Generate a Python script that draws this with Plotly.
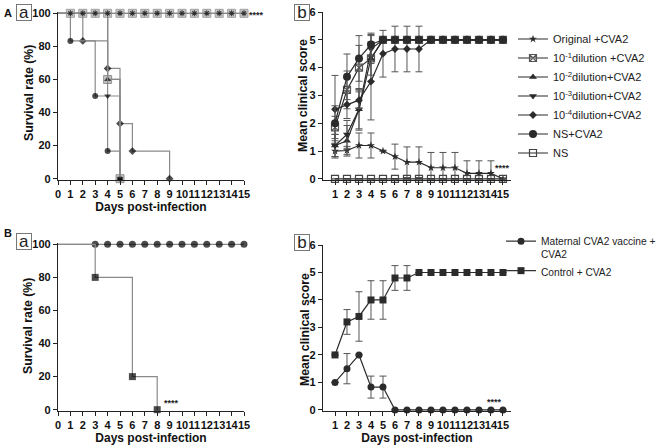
import plotly.graph_objects as go

# ---------------- data ----------------
# Panel A-a : survival (%) step points (Kaplan-Meier), day of event
surv_full_days = [0, 1, 2, 3, 4, 5, 6, 7, 8, 9, 10, 11, 12, 13, 14, 15]
surv_A_Original = [100, 100, 100, 100, 100, 100, 100, 100, 100, 100, 100, 100, 100, 100, 100, 100]
surv_A_NS = [100, 100, 100, 100, 100, 100, 100, 100, 100, 100, 100, 100, 100, 100, 100, 100]
surv_A_d1_days = [0, 4, 5]
surv_A_d1 = [100, 60, 0]
surv_A_d2_days = [0, 4, 5]
surv_A_d2 = [100, 60, 0]
surv_A_d3_days = [0, 4, 5]
surv_A_d3 = [100, 50, 0]
surv_A_d4_days = [0, 2, 4, 5, 6, 9]
surv_A_d4 = [100, 83.3, 66.7, 33.3, 16.7, 0]
surv_A_NSCVA2_days = [0, 1, 3, 4, 5]
surv_A_NSCVA2 = [100, 83.3, 50, 16.7, 0]

# Panel A-b : mean clinical score +/- SD, days 1..15
score_days = [1, 2, 3, 4, 5, 6, 7, 8, 9, 10, 11, 12, 13, 14, 15]
score_A_Original = [1.0, 1.02, 1.2, 1.2, 1.0, 0.8, 0.6, 0.6, 0.4, 0.4, 0.4, 0.2, 0.2, 0.2, 0.0]
err_A_Original = [0.25, 0.15, 0.45, 0.45, 0, 0.45, 0.55, 0.55, 0.55, 0.55, 0.55, 0.45, 0.45, 0.45, 0]
score_A_d1 = [1.85, 3.2, 4.0, 4.33, 5, 5, 5, 5, 5, 5, 5, 5, 5, 5, 5]
err_A_d1 = [0.4, 0.68, 0.8, 0.82, 0, 0, 0, 0, 0, 0, 0, 0, 0, 0, 0]
score_A_d2 = [1.2, 1.37, 2.5, 4.33, 5, 5, 5, 5, 5, 5, 5, 5, 5, 5, 5]
err_A_d2 = [0.4, 0.55, 0.7, 0.6, 0, 0, 0, 0, 0, 0, 0, 0, 0, 0, 0]
score_A_d3 = [1.2, 1.6, 2.5, 4.67, 5, 5, 5, 5, 5, 5, 5, 5, 5, 5, 5]
err_A_d3 = [0.4, 0.5, 0.75, 0.52, 0, 0, 0, 0, 0, 0, 0, 0, 0, 0, 0]
score_A_d4 = [2.5, 2.67, 2.83, 3.5, 4.5, 4.67, 4.67, 4.67, 5, 5, 5, 5, 5, 5, 5]
err_A_d4 = [1.22, 0.5, 0.3, 1.38, 0.84, 0.82, 0.82, 0.82, 0, 0, 0, 0, 0, 0, 0]
score_A_NSCVA2 = [2.0, 3.67, 4.33, 4.83, 5, 5, 5, 5, 5, 5, 5, 5, 5, 5, 5]
err_A_NSCVA2 = [0.63, 0.82, 0.82, 0.41, 0, 0, 0, 0, 0, 0, 0, 0, 0, 0, 0]
score_A_NS = [0, 0, 0, 0, 0, 0, 0, 0, 0, 0, 0, 0, 0, 0, 0]
err_A_NS = [0, 0, 0, 0, 0, 0, 0, 0, 0, 0, 0, 0, 0, 0, 0]

names_A = ["Original +CVA2", "10<sup>-1</sup>dilution +CVA2", "10<sup>-2</sup>dilution+CVA2",
           "10<sup>-3</sup>dilution+CVA2", "10<sup>-4</sup>dilution+CVA2", "NS+CVA2", "NS"]

# Panel B-a : survival
surv_B_mat_days = [0, 3, 4, 5, 6, 7, 8, 9, 10, 11, 12, 13, 14, 15]
surv_B_mat = [100, 100, 100, 100, 100, 100, 100, 100, 100, 100, 100, 100, 100, 100]
surv_B_ctrl_days = [0, 3, 6, 8]
surv_B_ctrl = [100, 80, 20, 0]

# Panel B-b : mean clinical score +/- SD
score_B_mat = [1.0, 1.5, 2.0, 0.83, 0.83, 0, 0, 0, 0, 0, 0, 0, 0, 0, 0]
err_B_mat = [0, 0.55, 0, 0.4, 0.4, 0, 0, 0, 0, 0, 0, 0, 0, 0, 0]
score_B_ctrl = [2.0, 3.2, 3.4, 4.0, 4.0, 4.8, 4.8, 5, 5, 5, 5, 5, 5, 5, 5]
err_B_ctrl = [0, 0.45, 0.9, 0.7, 0.7, 0.45, 0.45, 0, 0, 0, 0, 0, 0, 0, 0]
names_B = ["Maternal CVA2 vaccine +<br>CVA2", "Control + CVA2"]

x_ticks_surv = [0, 1, 2, 3, 4, 5, 6, 7, 8, 9, 10, 11, 12, 13, 14, 15]
x_ticks_score = [1, 2, 3, 4, 5, 6, 7, 8, 9, 10, 11, 12, 13, 14, 15]
y_ticks_surv = [0, 20, 40, 60, 80, 100]
y_ticks_score = [0, 1, 2, 3, 4, 5, 6]

# ---------------- styling helpers ----------------
W, H = 666, 448
FONT = "Liberation Sans, Arial, sans-serif"
GRAY_LINE = "#8a8a8a"
DARK = "#2b2b2b"


def px(x):
    return x / W


def py(y):
    return 1 - y / H


fig = go.Figure()


def surv_trace(xs, ys, symbol, size, color, xa, ya, mline=None, lw=0):
    sizes = [0] + [size] * (len(xs) - 1)
    fig.add_trace(go.Scatter(
        x=xs, y=ys, mode="lines+markers", line=dict(shape="hv", color=GRAY_LINE, width=1.2),
        marker=dict(symbol=symbol, size=sizes, color=color,
                    line=dict(color=mline or color, width=lw)),
        xaxis=xa, yaxis=ya, showlegend=False, cliponaxis=False, hoverinfo="skip"))


def score_trace(ys, err, name, symbol, size, xa, ya, legend, color=DARK, lw=0, mcolor=None):
    minus = [min(e, v) for e, v in zip(err, ys)]
    fig.add_trace(go.Scatter(
        x=score_days, y=ys, name=name, mode="lines+markers", legendgroup=name,
        line=dict(color=DARK, width=1.2),
        marker=dict(symbol=symbol, size=size, color=mcolor or color, line=dict(color=color, width=lw)),
        error_y=dict(type="data", array=err, arrayminus=minus, symmetric=False,
                     color="#555", thickness=1, width=3.5),
        xaxis=xa, yaxis=ya, legend=legend, cliponaxis=False))


# Panel A-a
surv_trace(surv_A_d4_days, surv_A_d4, "diamond", 6, "black", "x", "y")
surv_trace(surv_A_NSCVA2_days, surv_A_NSCVA2, "circle", 6, "black", "x", "y")
surv_trace(surv_A_d1_days, surv_A_d1, "square", 8, "#a8a8a8", "x", "y", mline="#666", lw=1)
surv_trace(surv_A_d2_days, surv_A_d2, "triangle-up", 6, "black", "x", "y")
surv_trace(surv_A_d3_days, surv_A_d3, "triangle-down", 6, "black", "x", "y")
surv_trace(surv_full_days, surv_A_NS, "square", 8, "#b4b4b4", "x", "y", mline="#777", lw=1)
surv_trace(surv_full_days, surv_A_Original, "asterisk-open", 5, "black", "x", "y", mline="black", lw=1.1)

# Panel A-b
score_trace(score_A_Original, err_A_Original, names_A[0], "star", 6, "x2", "y2", "legend")
score_trace(score_A_d1, err_A_d1, names_A[1], "square-x-open", 7, "x2", "y2", "legend", color="#555", lw=1.2)
score_trace(score_A_d2, err_A_d2, names_A[2], "triangle-up", 7, "x2", "y2", "legend")
score_trace(score_A_d3, err_A_d3, names_A[3], "triangle-down", 7, "x2", "y2", "legend")
score_trace(score_A_d4, err_A_d4, names_A[4], "diamond", 6, "x2", "y2", "legend")
score_trace(score_A_NSCVA2, err_A_NSCVA2, names_A[5], "circle", 8, "x2", "y2", "legend")
score_trace(score_A_NS, err_A_NS, names_A[6], "square-open", 7, "x2", "y2", "legend", color="#444", lw=1.2)

# Panel B-a
surv_trace(surv_B_mat_days, surv_B_mat, "circle", 7, "black", "x3", "y3")
surv_trace(surv_B_ctrl_days, surv_B_ctrl, "square", 7, "black", "x3", "y3")

# Panel B-b
score_trace(score_B_mat, err_B_mat, names_B[0], "circle", 7, "x4", "y4", "legend2")
score_trace(score_B_ctrl, err_B_ctrl, names_B[1], "square", 7, "x4", "y4", "legend2")

# ---------------- axes ----------------
tickfont = dict(family=FONT, size=11, color="#111", weight="bold")
xtitlefont = dict(family=FONT, size=12, color="#111", weight="bold")
ytitlefont = dict(family=FONT, size=12.3, color="#111", weight="bold")


def xaxis(domain, rng, ticks, anchor, title=None):
    d = dict(domain=domain, range=rng, tickvals=ticks, ticks="outside", ticklen=4, tickwidth=1,
             tickcolor="#222", showline=True, linecolor="#222", linewidth=1.2, showgrid=False,
             zeroline=False, tickfont=tickfont, tickangle=0, anchor=anchor, automargin=False,
             fixedrange=True)
    if title:
        d["title"] = dict(text=title, font=xtitlefont, standoff=3)
    return d


def yaxis(domain, rng, ticks, anchor):
    return dict(domain=domain, range=rng, tickvals=ticks, ticks="outside", ticklen=4, tickwidth=1,
                tickcolor="#222", showline=True, linecolor="#222", linewidth=1.2, showgrid=False,
                zeroline=False, tickfont=tickfont, anchor=anchor, automargin=False, fixedrange=True)


xa_left = [px(58), px(244)]
xa_right = [px(323), px(511)]

fig.update_layout(
    xaxis=xaxis(xa_left, [0, 15], x_ticks_surv, "y", "Days post-infection"),
    yaxis=yaxis([py(180), py(12)], [-0.8, 100.8], y_ticks_surv, "x"),
    xaxis2=xaxis(xa_right, [0, 15.67], x_ticks_score, "y2"),
    yaxis2=yaxis([py(180), py(12)], [-0.04, 6], y_ticks_score, "x2"),
    xaxis3=xaxis(xa_left, [0, 15], x_ticks_surv, "y3", "Days post-infection"),
    yaxis3=yaxis([py(411), py(243)], [-0.8, 100.8], y_ticks_surv, "x3"),
    xaxis4=xaxis(xa_right, [0, 15.67], x_ticks_score, "y4", "Days post-infection"),
    yaxis4=yaxis([py(411), py(245)], [-0.04, 6], y_ticks_score, "x4"),
)

# ---------------- legends ----------------
fig.update_layout(
    legend=dict(x=px(513), y=py(24.5), xanchor="left", yanchor="top", itemwidth=30,
                tracegroupgap=0.6, traceorder="normal",
                font=dict(family=FONT, size=11, color="#222"), bgcolor="rgba(0,0,0,0)",
                itemclick=False, itemdoubleclick=False),
    legend2=dict(x=px(501), y=py(228), xanchor="left", yanchor="top", itemwidth=30, valign="top",
                 tracegroupgap=0, traceorder="normal",
                 font=dict(family=FONT, size=10.2, color="#222"), bgcolor="rgba(0,0,0,0)",
                 itemclick=False, itemdoubleclick=False),
)

# ---------------- annotations ----------------
ann = []
# y-axis titles
for (lx, ly, t) in [(29, 93, "Survival rate (%)"), (303, 96, "Mean clinical score"),
                    (28, 326, "Survival rate (%)"), (305, 330, "Mean clinical score")]:
    ann.append(dict(xref="paper", yref="paper", x=px(lx), y=py(ly), text=t, showarrow=False,
                    textangle=-90, xanchor="center", yanchor="middle", font=ytitlefont))

star_font = dict(family=FONT, size=9, color="#222", weight="bold")
ann.append(dict(xref="x", yref="y", x=15, y=100, text="****", showarrow=False, xanchor="left",
                xshift=3, yshift=-2, font=star_font))
ann.append(dict(xref="x2", yref="y2", x=15, y=0, text="****", showarrow=False, xanchor="center",
                yshift=11, font=star_font))
ann.append(dict(xref="x3", yref="y3", x=8, y=0, text="****", showarrow=False, xanchor="left",
                xshift=5, yshift=7, font=star_font))
ann.append(dict(xref="x4", yref="y4", x=14, y=0, text="****", showarrow=False, xanchor="center",
                xshift=4, yshift=8, font=star_font))

box_font = dict(family=FONT, size=17, color="#222")
for (lx, ly, letter) in [(24.5, 13, "a"), (301.5, 12.5, "b"), (24.5, 241.5, "a"), (302, 242.5, "b")]:
    ann.append(dict(xref="paper", yref="paper", x=px(lx), y=py(ly), text=letter, showarrow=False,
                    xanchor="center", yanchor="middle", font=box_font, bordercolor="#777",
                    borderwidth=1, borderpad=0, width=14, height=15))
for (lx, ly, letter) in [(8, 13, "A"), (8, 233, "B")]:
    ann.append(dict(xref="paper", yref="paper", x=px(lx), y=py(ly), text=letter, showarrow=False,
                    xanchor="center", yanchor="middle",
                    font=dict(family=FONT, size=11, color="#111", weight="bold")))

fig.update_layout(
    annotations=ann,
    width=W, height=H, margin=dict(l=0, r=0, t=0, b=0),
    paper_bgcolor="white", plot_bgcolor="white",
    font=dict(family=FONT, color="#222"),
)

fig.write_html("out.html", config={"displayModeBar": False})

# remove the browser's default body margin so the figure sits at the page origin
with open("out.html", "r", encoding="utf-8") as f:
    html = f.read()
html = html.replace("<body>", '<body style="margin:0;padding:0;">', 1)
with open("out.html", "w", encoding="utf-8") as f:
    f.write(html)
